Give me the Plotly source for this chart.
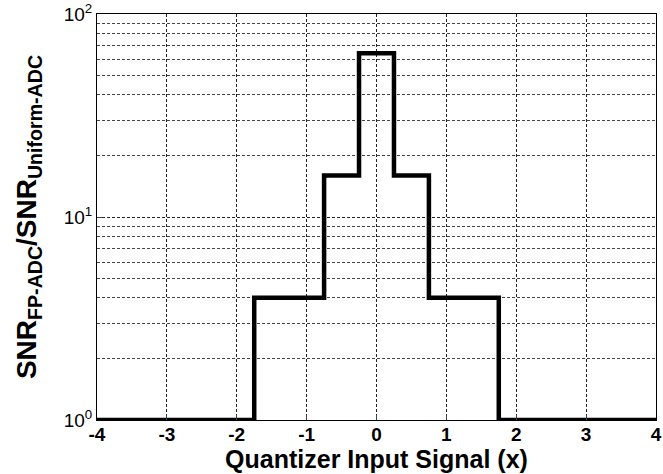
import plotly.graph_objects as go

# Data
x_edges = [-4, -1.75, -0.75, -0.25, 0.25, 0.75, 1.75, 4]
levels = [1, 4, 16, 64, 16, 4, 1]
x_ticks = [-4, -3, -2, -1, 0, 1, 2, 3, 4]
y_ticks = [1, 10, 100]
y_ticktext = ["10<sup>0</sup>", "10<sup>1</sup>", "10<sup>2</sup>"]

fig = go.Figure()
fig.add_trace(go.Scatter(
    x=x_edges, y=levels + [levels[-1]],
    mode="lines", line=dict(color="black", width=4.5, shape="hv"),
    cliponaxis=False, showlegend=False,
))

font = "Liberation Sans, Arial, sans-serif"
grid = dict(gridcolor="#222222", gridwidth=1, griddash="3px,2px")

fig.update_layout(
    width=663, height=474,
    margin=dict(l=97, r=1, t=12, b=54),
    paper_bgcolor="white", plot_bgcolor="white",
    font=dict(family=font, color="black", size=16),
    xaxis=dict(
        range=[-4, 4], tickvals=x_ticks, ticktext=["<b>%d</b>" % v for v in x_ticks],
        showgrid=True, **grid, showline=True, linecolor="black", linewidth=1,
        mirror=True, ticks="inside", ticklen=5, zeroline=False,
        ticklabeloverflow="allow", ticklabelstandoff=-3,
        tickfont=dict(family=font, size=19, color="black"),
        title=dict(text="<b>Quantizer Input Signal (x)</b>", font=dict(size=25), standoff=0),
    ),
    yaxis=dict(
        type="log", range=[0, 2], tickvals=y_ticks, ticktext=y_ticktext,
        showgrid=True, **grid, showline=True, linecolor="black", linewidth=1,
        mirror=True, ticks="inside", ticklen=5, zeroline=False,
        ticklabeloverflow="allow",
        minor=dict(dtick="D1", showgrid=True, gridcolor="#444444", gridwidth=1, griddash="3px,2px"),
        tickfont=dict(family=font, size=19, color="black"),
        title=dict(text="<b>SNR<sub>FP-ADC</sub>/SNR<sub>Uniform-ADC</sub></b>", font=dict(size=28), standoff=18),
    ),
)

fig.write_html("out.html")
